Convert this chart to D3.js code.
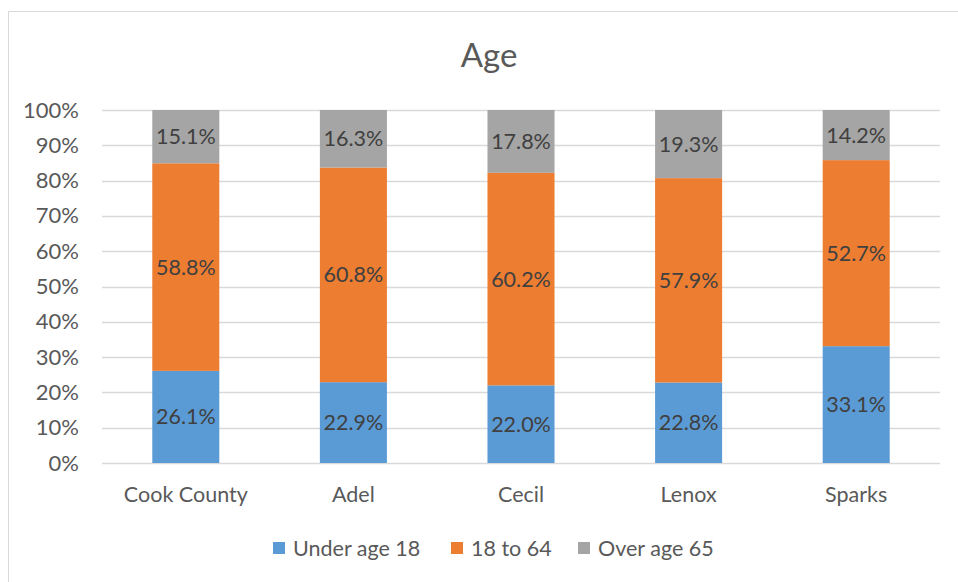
<!DOCTYPE html>
<html><head><meta charset="utf-8">
<script src="https://cdn.jsdelivr.net/npm/d3@7"></script>
<style>body{margin:0;background:#fff}svg{display:block}text{font-family:Lato,"Open Sans",sans-serif}</style>
</head><body>
<svg id="c" width="958" height="582"></svg>
<script>
const categories = ["Cook County","Adel","Cecil","Lenox","Sparks"];
const seriesNames = ["Under age 18","18 to 64","Over age 65"];
const under18 = [26.1,22.9,22.0,22.8,33.1];
const age18to64 = [58.8,60.8,60.2,57.9,52.7];
const over65 = [15.1,16.3,17.8,19.3,14.2];
const yTicks = [0,10,20,30,40,50,60,70,80,90,100];
const colors = ["#5b9bd5","#ed7d31","#a5a5a5"];

const svg = d3.select("#c");
svg.append("line").attr("x1",8.5).attr("x2",958).attr("y1",11.5).attr("y2",11.5).attr("stroke","#d9d9d9");
svg.append("line").attr("x1",8.5).attr("x2",8.5).attr("y1",11.5).attr("y2",582).attr("stroke","#d9d9d9");

const x = d3.scaleBand().domain(categories).range([102,940]).paddingInner(0.6).paddingOuter(0.3);
const y = d3.scaleLinear().domain([0,100]).range([463,110]);

svg.append("text").attr("x",489).attr("y",67).attr("text-anchor","middle")
  .attr("font-size",33).attr("fill","#595959").text("Age");

svg.append("g").selectAll("line").data(yTicks).join("line")
  .attr("x1",102).attr("x2",940).attr("y1",d=>Math.round(y(d))+0.5).attr("y2",d=>Math.round(y(d))+0.5)
  .attr("stroke","#d9d9d9").attr("stroke-width",1.3);

const yAxis = d3.axisLeft(y).tickValues(yTicks).tickFormat(d=>d+"%").tickSize(0).tickPadding(0);
const ya = svg.append("g").attr("transform","translate(79,0)").call(yAxis);
ya.select(".domain").remove();
ya.selectAll("text").attr("font-size",22).attr("fill","#595959").attr("font-family","Lato");

const xAxis = d3.axisBottom(x).tickSize(0).tickPadding(0);
const xa = svg.append("g").attr("transform","translate(0,487)").call(xAxis);
xa.select(".domain").remove();
xa.selectAll("text").attr("font-size",21.5).attr("fill","#595959").attr("font-family","Lato");

const rows = categories.map((c,i)=>({cat:c, s0:under18[i], s1:age18to64[i], s2:over65[i]}));
const stack = d3.stack().keys(["s0","s1","s2"])(rows);

const g = svg.append("g");
stack.forEach((layer,k)=>{
  g.append("g").selectAll("rect").data(layer).join("rect")
    .attr("x",d=>x(d.data.cat)).attr("width",x.bandwidth())
    .attr("y",d=>y(d[1])).attr("height",d=>y(d[0])-y(d[1]))
    .attr("fill",colors[k]);
  g.append("g").selectAll("text").data(layer).join("text")
    .attr("x",d=>x(d.data.cat)+x.bandwidth()/2)
    .attr("y",d=>(y(d[0])+y(d[1]))/2)
    .attr("dy","0.35em").attr("text-anchor","middle")
    .attr("font-size",21.5).attr("fill","#404040")
    .text(d=>(d[1]-d[0]).toFixed(1)+"%");
});

const legX = [273,451,578];
const lg = svg.append("g");
seriesNames.forEach((n,i)=>{
  lg.append("rect").attr("x",legX[i]).attr("y",542).attr("width",12).attr("height",12).attr("fill",colors[i]);
  lg.append("text").attr("x",legX[i]+20).attr("y",548).attr("dy","0.35em")
    .attr("font-size",21.5).attr("fill","#595959").text(n);
});
</script>
</body></html>
